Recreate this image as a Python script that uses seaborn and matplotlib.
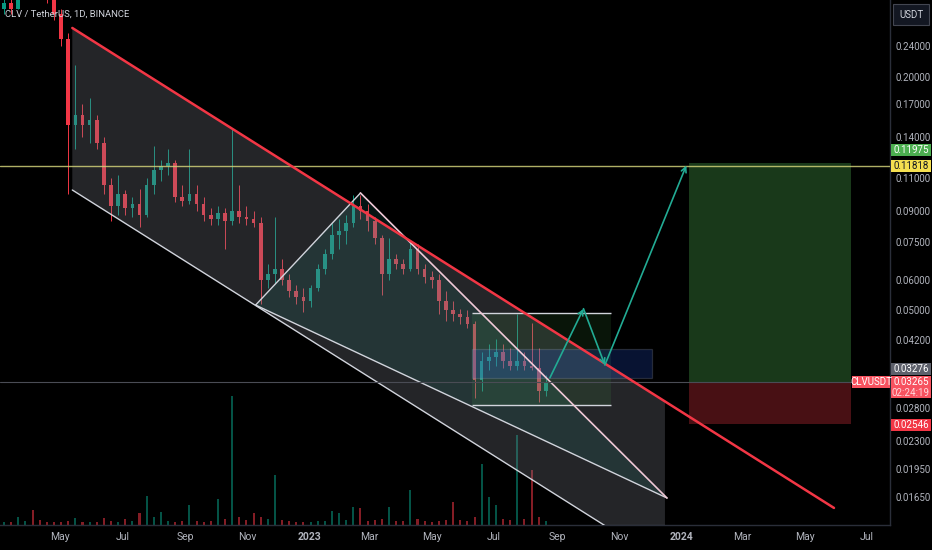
import numpy as np
import pandas as pd
import matplotlib
matplotlib.use('Agg')
import matplotlib.pyplot as plt
import matplotlib.dates as mdates
from matplotlib.patches import Rectangle, Polygon
import seaborn as sns

# weekly bars (CLV / USDT)
bar_dates = pd.date_range('2022-03-07', periods=77, freq='7D')
opens = [.300, .310, .300, .350, .380, .370, .340, .330, .290, .250,
         .150, .160, .150, .155, .135, .105, .093, .100, .092, .094,
         .088, .105, .115, .118, .120, .098, .096, .100, .094, .088,
         .086, .089, .085, .090, .087, .086, .084, .060, .062, .064,
         .060, .056, .054, .053, .057, .064, .070, .078, .080, .084,
         .093, .090, .085, .077, .062, .068, .066, .064, .072, .064,
         .061, .060, .053, .050, .049, .048, .046, .033, .037, .038,
         .039, .037, .036, .037, .036, .0355, .031]
highs = [.330, .330, .360, .400, .420, .390, .360, .340, .300, .260,
         .215, .170, .176, .160, .140, .110, .112, .102, .098, .103,
         .110, .133, .122, .130, .122, .105, .130, .105, .098, .092,
         .093, .092, .147, .105, .093, .090, .087, .066, .087, .068,
         .062, .058, .057, .058, .066, .072, .084, .086, .088, .099,
         .099, .094, .087, .078, .077, .070, .068, .075, .074, .066,
         .063, .062, .056, .053, .0505, .050, .047, .039, .041, .0423,
         .041, .040, .049, .039, .0463, .040, .034]
lows = [.290, .290, .300, .340, .350, .330, .310, .280, .240, .100,
        .130, .140, .135, .130, .100, .085, .088, .088, .087, .082,
        .087, .100, .108, .112, .095, .093, .094, .090, .085, .083,
        .083, .072, .083, .084, .083, .082, .052, .057, .059, .058,
        .054, .052, .0496, .051, .056, .062, .068, .072, .074, .082,
        .086, .080, .074, .0547, .060, .064, .062, .063, .062, .059,
        .057, .049, .047, .047, .046, .045, .0297, .031, .035, .036,
        .0355, .035, .035, .035, .035, .029, .030]
closes = [.310, .300, .350, .380, .370, .340, .330, .290, .250, .150,
          .160, .150, .155, .135, .105, .093, .100, .092, .094, .088,
          .105, .115, .118, .120, .098, .096, .100, .094, .088, .086,
          .089, .085, .090, .087, .086, .084, .060, .062, .064, .060,
          .056, .054, .053, .057, .064, .070, .078, .080, .084, .093,
          .090, .085, .077, .062, .068, .066, .064, .072, .064, .061,
          .060, .053, .050, .049, .048, .046, .033, .037, .038, .039,
          .037, .036, .037, .036, .0355, .031, .03265]
volumes = [0.3, 0.3, 0.8, 0.4, 1.5, 0.5, 0.3, 0.3, 0.3, 0.4,
           0.7, 0.3, 0.3, 0.3, 0.7, 0.4, 0.3, 0.6, 0.4, 1.2,
           2.9, 0.8, 1.3, 0.4, 0.3, 0.4, 2.0, 0.4, 0.3, 0.4,
           2.6, 0.6, 12.9, 0.8, 0.5, 1.2, 0.8, 0.6, 5.0, 0.5,
           0.4, 0.3, 0.3, 0.3, 0.4, 0.4, 1.4, 1.2, 0.5, 1.8,
           1.7, 0.4, 0.5, 0.6, 1.8, 0.4, 0.4, 3.5, 0.6, 0.4,
           0.3, 0.4, 0.5, 2.3, 0.5, 0.4, 0.8, 6.1, 2.8, 2.0,
           0.6, 0.5, 9.0, 0.6, 5.5, 0.8, 0.4]

# drawings (date, price)
channel_top = [('2022-05-13', 0.2675), ('2024-05-30', 0.01547)]
channel_bottom_start = 0.1022
channel_end = '2023-12-16'
wedge = [('2022-11-09', 0.0516), ('2023-02-20', 0.1004), ('2023-12-18', 0.01641)]
range_box = ('2023-06-10', '2023-10-24', 0.0285, 0.0492)
zone_box = ('2023-06-10', '2023-12-03', 0.0335, 0.0398)
path_pts = [('2023-08-25', 0.0335), ('2023-09-27', 0.0505),
            ('2023-10-18', 0.03615), ('2024-01-06', 0.1182)]
position = ('2024-01-09', '2024-06-16')
entry, target, stop = 0.03265, 0.11975, 0.02546
level = 0.11818
last_mark = 0.03276

price_ticks = [0.0165, 0.0195, 0.023, 0.028, 0.042, 0.05, 0.06, 0.075,
               0.09, 0.11, 0.14, 0.17, 0.2, 0.24]
month_ticks = ['2022-05-01', '2022-07-01', '2022-09-01', '2022-11-01', '2023-01-01',
               '2023-03-01', '2023-05-01', '2023-07-01', '2023-09-01', '2023-11-01',
               '2024-01-01', '2024-03-01', '2024-05-01', '2024-07-01']
month_labels = ['May', 'Jul', 'Sep', 'Nov', '2023', 'Mar', 'May', 'Jul', 'Sep',
                'Nov', '2024', 'Mar', 'May', 'Jul']

sns.set_theme(style='dark', rc={'axes.facecolor': '#000000', 'figure.facecolor': '#000000'})
plt.rcParams['font.family'] = ['Roboto', 'DejaVu Sans']

W, H = 932, 550
fig = plt.figure(figsize=(W / 100, H / 100), dpi=100)
rect = [0, 25 / H, 890 / W, 525 / H]
ax_vol = fig.add_axes(rect)
ax = fig.add_axes(rect)
ax.patch.set_visible(False)


def d(s):
    return mdates.date2num(pd.Timestamp(s))


xmin, xmax = d('2022-03-03'), d('2024-07-24')
up_col, dn_col = '#089981', '#f23645'

# volume pane
x = mdates.date2num(bar_dates)
up = np.array(closes) >= np.array(opens)
ax_vol.bar(x, volumes, width=2.0, color=np.where(up, up_col, dn_col), alpha=0.55, linewidth=0)
ax_vol.set_xlim(xmin, xmax)
ax_vol.set_ylim(0, 52.5)
ax_vol.axis('off')

# candles
lo_body = np.minimum(opens, closes)
hi_body = np.maximum(opens, closes)
cols = np.where(up, up_col, dn_col)
ax.vlines(x, lows, highs, colors=cols, lw=0.7, zorder=2)
ax.bar(x, hi_body - lo_body, bottom=lo_body, width=3.6, color=cols, linewidth=0, zorder=2)


def logline(p0, d0, p1, d1, dd):
    t = (dd - d0) / (d1 - d0)
    return float(np.exp(np.log(p0) + t * (np.log(p1) - np.log(p0))))


# descending channel
c0, c1 = d(channel_top[0][0]), d(channel_top[1][0])
p0, p1 = channel_top[0][1], channel_top[1][1]
ce = d(channel_end)
ratio = channel_bottom_start / p0
top_e = logline(p0, c0, p1, c1, ce)
ax.add_patch(Polygon([(c0, p0), (ce, top_e), (ce, top_e * ratio), (c0, channel_bottom_start)],
                     closed=True, fc='#787b86', alpha=0.3, ec='none', zorder=3))
ax.plot([c0, ce], [channel_bottom_start, top_e * ratio], color='#d1d4dc', lw=1, zorder=4)
sns.lineplot(x=[c0, c1], y=[p0, p1], color='#f23645', lw=1.8, ax=ax, zorder=6)

# wedge
wx = [d(w[0]) for w in wedge]
wy = [w[1] for w in wedge]
ax.add_patch(Polygon(list(zip(wx, wy)), closed=True, fc='#26a69a', alpha=0.13, ec='none', zorder=3))
ax.plot([wx[0], wx[1]], [wy[0], wy[1]], color='#d1d4dc', lw=1, zorder=4)
ax.plot([wx[0], wx[2]], [wy[0], wy[2]], color='#d1d4dc', lw=1, zorder=4)
ax.plot([wx[1], wx[2]], [wy[1], wy[2]], color='#f0c8d6', lw=1.2, zorder=5)

# range boxes
r0, r1 = d(range_box[0]), d(range_box[1])
ax.add_patch(Rectangle((r0, range_box[2]), r1 - r0, range_box[3] - range_box[2],
                       fc='#4caf50', alpha=0.12, ec='none', zorder=3))
ax.hlines([range_box[2], range_box[3]], r0, r1, color='#d1d4dc', lw=1, zorder=4)
z0, z1 = d(zone_box[0]), d(zone_box[1])
ax.add_patch(Rectangle((z0, zone_box[2]), z1 - z0, zone_box[3] - zone_box[2],
                       fc='#2962ff', alpha=0.2, ec='#b2b5be', lw=0.9, zorder=3))

# projected path
px_ = [d(p[0]) for p in path_pts]
py_ = [p[1] for p in path_pts]
for i in range(len(path_pts) - 1):
    ax.annotate('', xy=(px_[i + 1], py_[i + 1]), xytext=(px_[i], py_[i]),
                arrowprops=dict(arrowstyle='->', color='#22ab94', lw=1.2,
                                mutation_scale=9, shrinkA=0, shrinkB=0), zorder=7)

# long position
q0, q1 = d(position[0]), d(position[1])
ax.add_patch(Rectangle((q0, entry), q1 - q0, target - entry, fc='#4caf50', alpha=0.33, ec='none', zorder=3))
ax.add_patch(Rectangle((q0, stop), q1 - q0, entry - stop, fc='#f23645', alpha=0.3, ec='none', zorder=3))

# horizontal levels
ax.axhline(level, color='#cfcf78', lw=1, alpha=0.85, zorder=5)
ax.axhline(entry, color='#4a4c55', lw=0.8, zorder=5)

# axes styling
ax.set_yscale('log')
ax.set_xlim(xmin, xmax)
ax.set_ylim(0.01398, 0.3158)
ax.yaxis.tick_right()
ax.set_yticks(price_ticks)
ax.set_yticklabels([f'{t:.5f}' for t in price_ticks])
ax.yaxis.set_minor_locator(matplotlib.ticker.NullLocator())
ax.set_xticks([d(m) for m in month_ticks])
ax.set_xticklabels(month_labels)
for lab in ax.get_xticklabels():
    if lab.get_text() in ('2023', '2024'):
        lab.set_fontweight('bold')
        lab.set_color('#d1d4dc')
ax.tick_params(axis='y', length=0, pad=4, labelsize=7, labelcolor='#b2b5be')
ax.tick_params(axis='x', length=0, pad=5, labelsize=7.5, labelcolor='#b2b5be')
ax.set_xlabel('')
ax.set_ylabel('')
ax.grid(False)
for s in ('left', 'top'):
    ax.spines[s].set_visible(False)
for s in ('right', 'bottom'):
    ax.spines[s].set_color('#2a2e39')
    ax.spines[s].set_linewidth(1)

fig.canvas.draw()


def ypix(p):
    return H - ax.transData.transform((xmin, p))[1]


def tag(yc, text, fc, tc, x0=891, x1=931, h=12, ytext=None):
    fig.add_artist(Rectangle((x0 / W, 1 - (yc + h / 2) / H), (x1 - x0) / W, h / H,
                             transform=fig.transFigure, fc=fc, ec='none', zorder=10))
    fig.text((x0 + x1) / 2 / W, 1 - (yc if ytext is None else ytext) / H, text,
             ha='center', va='center', fontsize=7, color=tc, zorder=11)


tag(ypix(target) - 13, f'{target:.5f}', '#4caf50', '#ffffff')
tag(ypix(level), f'{level:.5f}', '#f5e050', '#131722')
tag(ypix(last_mark) - 13, f'{last_mark:.5f}', '#5d606b', '#ffffff')
ye = ypix(entry)
tag(ye + 5, '', '#f7525f', '#ffffff', h=22)
fig.text(911 / W, 1 - ye / H, f'{entry:.5f}', ha='center', va='center', fontsize=7, color='#ffffff', zorder=11)
fig.text(911 / W, 1 - (ye + 11) / H, '02:24:19', ha='center', va='center', fontsize=7, color='#ffd6da', zorder=11)
tag(ye, 'CLVUSDT', '#f7525f', '#ffffff', x0=852, x1=890)
tag(ypix(stop) + 1, f'{stop:.5f}', '#f23645', '#ffffff')

# header and currency box
fig.text(5 / W, 1 - 14 / H, 'CLV / TetherUS, 1D, BINANCE', ha='left', va='center',
         fontsize=6.8, color='#d1d4dc')
fig.add_artist(Rectangle((893 / W, 1 - 25 / H), 36 / W, 21 / H, transform=fig.transFigure,
                         fc='#131722', ec='#434651', lw=0.8, zorder=10))
fig.text(911 / W, 1 - 14.5 / H, 'USDT', ha='center', va='center', fontsize=7, color='#d1d4dc', zorder=11)

fig.savefig('out.png', dpi=100, facecolor=fig.get_facecolor())
